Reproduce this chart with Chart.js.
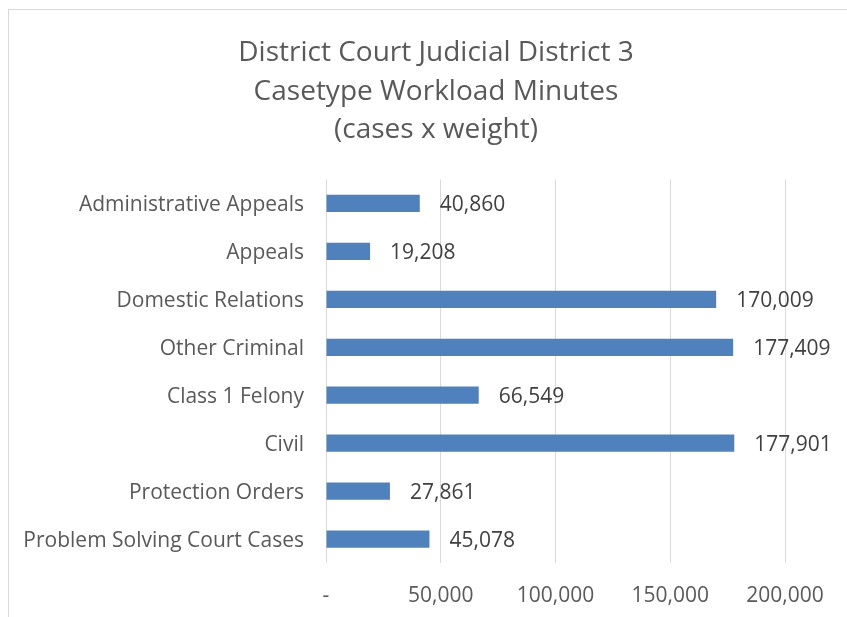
<!DOCTYPE html>
<html>
<head>
<meta charset="utf-8">
<script src="https://cdn.jsdelivr.net/npm/chart.js@4"></script>
<style>
  html, body { margin: 0; padding: 0; background: #fff; overflow: hidden; }
  #wrap { position: relative; width: 847px; height: 617px; }
  #frame { position: absolute; left: 8px; top: 9px; width: 900px; height: 700px; border: 1px solid #d9d9d9; box-sizing: border-box; }
  canvas { position: absolute; left: 0; top: 0; }
</style>
</head>
<body>
<div id="wrap">
  <div id="frame"></div>
  <canvas id="workload" width="847" height="617"></canvas>
</div>
<script>
"use strict";

var categories = ['Administrative Appeals', 'Appeals', 'Domestic Relations', 'Other Criminal',
    'Class 1 Felony', 'Civil', 'Protection Orders', 'Problem Solving Court Cases'];
var minutes = [40860, 19208, 170009, 177409, 66549, 177901, 27861, 45078];
var xTicks = [0, 50000, 100000, 150000, 200000];
var titleLines = ['District Court Judicial District 3', 'Casetype Workload Minutes', '(cases x weight)'];

var fontFamily = '"Open Sans", sans-serif';

function fmt(v) {
    return v === 0 ? '-' : v.toLocaleString('en-US');
}

/* value labels right of each bar */
var barLabels = {
    id: 'barLabels',
    afterDatasetsDraw: function (chart) {
        var ctx = chart.ctx;
        var meta = chart.getDatasetMeta(0);
        ctx.save();
        ctx.font = '21px ' + fontFamily;
        ctx.fillStyle = '#404040';
        ctx.textAlign = 'left';
        ctx.textBaseline = 'middle';
        meta.data.forEach(function (bar, i) {
            ctx.fillText(fmt(minutes[i]), bar.x + 20, bar.y + 2);
        });
        ctx.restore();
    }
};

var ctx = document.getElementById('workload').getContext('2d');

var config = {
    type: 'bar',
    data: {
        labels: categories,
        datasets: [{
            label: 'Workload minutes',
            data: minutes,
            backgroundColor: '#4f81bd',
            borderWidth: 0,
            categoryPercentage: 1,
            barPercentage: 0.36
        }]
    },
    options: {
        indexAxis: 'y',
        responsive: false,
        animation: false,
        layout: { padding: { left: 25, right: 0, top: 0, bottom: 0 } },
        plugins: {
            legend: { display: false },
            tooltip: { enabled: false },
            title: {
                display: true,
                text: titleLines,
                color: '#595959',
                font: { family: fontFamily, size: 28, weight: 'normal', lineHeight: 1.375 },
                padding: { top: 34, bottom: 30 }
            }
        },
        scales: {
            x: {
                min: 0,
                max: 200000,
                afterBuildTicks: function (scale) {
                    scale.ticks = xTicks.map(function (v) { return { value: v }; });
                },
                afterFit: function (scale) { scale.height = 54; },
                grid: { color: '#d9d9d9', lineWidth: 1, drawTicks: false },
                border: { display: false },
                ticks: {
                    padding: 20,
                    color: '#595959',
                    font: { family: fontFamily, size: 21 },
                    maxRotation: 0,
                    callback: function (v) { return fmt(v); }
                }
            },
            y: {
                afterFit: function (scale) { scale.width = 301; },
                grid: { display: false, drawTicks: false },
                border: { display: false },
                ticks: {
                    padding: 22,
                    labelOffset: 2,
                    color: '#595959',
                    font: { family: fontFamily, size: 21 }
                }
            },
            yr: {
                type: 'linear',
                position: 'right',
                display: true,
                afterFit: function (scale) { scale.width = 62; },
                grid: { display: false, drawTicks: false },
                border: { display: false },
                ticks: { display: false }
            }
        }
    },
    plugins: [barLabels]
};

var workloadChart = new Chart(ctx, config);
</script>
</body>
</html>
